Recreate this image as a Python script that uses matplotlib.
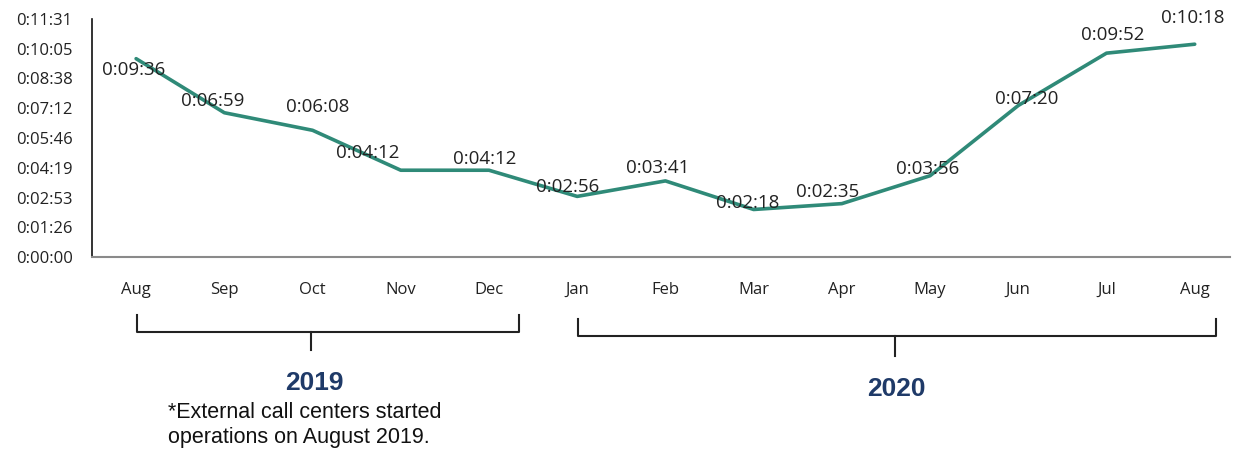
import matplotlib
matplotlib.use("Agg")
import matplotlib.pyplot as plt
from matplotlib.lines import Line2D
from matplotlib.ticker import FixedLocator

months = ["Aug", "Sep", "Oct", "Nov", "Dec", "Jan", "Feb", "Mar", "Apr", "May", "Jun", "Jul", "Aug"]
durations = ["0:09:36", "0:06:59", "0:06:08", "0:04:12", "0:04:12", "0:02:56", "0:03:41",
             "0:02:18", "0:02:35", "0:03:56", "0:07:20", "0:09:52", "0:10:18"]
ytick_labels = ["0:00:00", "0:01:26", "0:02:53", "0:04:19", "0:05:46", "0:07:12",
                "0:08:38", "0:10:05", "0:11:31"]
year_labels = ["2019", "2020"]
footnote = "*External call centers started\noperations on August 2019."


def to_sec(s):
    h, m, sec = s.split(":")
    return int(h) * 3600 + int(m) * 60 + int(sec)


values = [to_sec(d) for d in durations]
tick_step = 86.4  # 0.001 day in seconds
ytick_pos = [i * tick_step for i in range(len(ytick_labels))]

W, H = 1243, 453
fig = plt.figure(figsize=(W / 100, H / 100), dpi=100)
ax = fig.add_axes([92 / W, 1 - 257 / H, (1230 - 92) / W, (257 - 19) / H])

x = list(range(len(months)))
ax.plot(x, values, color="#2f8a78", lw=2.6, solid_capstyle="round")

ax.set_xlim(-0.5, 12.4)
ax.set_ylim(0, ytick_pos[-1])
ax.yaxis.set_major_locator(FixedLocator(ytick_pos))
ax.set_yticklabels(ytick_labels)
ax.set_xticks(x)
ax.set_xticklabels(months)
ax.tick_params(axis="both", length=0, labelsize=12, colors="#222222")
ax.tick_params(axis="x", pad=18)
ax.tick_params(axis="y", pad=14)
for lab in ax.get_xticklabels() + ax.get_yticklabels():
    lab.set_fontfamily("Open Sans")

for s in ["top", "right"]:
    ax.spines[s].set_visible(False)
ax.spines["left"].set_color("#111111")
ax.spines["left"].set_linewidth(1.2)
ax.spines["bottom"].set_color("#8a8a8a")
ax.spines["bottom"].set_linewidth(1.5)

# label offsets in pixels (dx, dy)
offsets = [(-2, -11), (-12, 12), (5, 23), (-33, 17), (-4, 11), (-10, 9), (-8, 13),
           (-6, 6), (-14, 12), (-2, 7), (8, 6), (6, 18), (-2, 26)]
for xi, v, lab, (dx, dy) in zip(x, values, durations, offsets):
    ax.annotate(lab, (xi, v), xytext=(dx, dy), textcoords="offset pixels",
                ha="center", va="center", fontsize=13.5, family="Open Sans",
                color="#222222", annotation_clip=False)


def fx(px):
    return px / W


def fy(py):
    return 1 - py / H


def bracket(x0, x1, ybar, ytop, xm, ybot):
    kw = dict(color="#222222", lw=1.5, transform=fig.transFigure)
    fig.add_artist(Line2D([fx(x0), fx(x0), fx(x1), fx(x1)],
                          [fy(ytop), fy(ybar), fy(ybar), fy(ytop)], **kw))
    fig.add_artist(Line2D([fx(xm), fx(xm)], [fy(ybar), fy(ybot)], **kw))


bracket(137, 519, 332, 315, 311, 350)
bracket(578, 1216, 336, 319, 895, 356)

fig.text(fx(314), fy(383), year_labels[0], ha="center", va="center",
         fontsize=19, fontweight="bold", color="#1f3a68", family="Liberation Sans")
fig.text(fx(896), fy(389), year_labels[1], ha="center", va="center",
         fontsize=19, fontweight="bold", color="#1f3a68", family="Liberation Sans")
fig.text(fx(168), fy(425), footnote, ha="left", va="center",
         fontsize=15.5, color="#111111", family="Liberation Sans", linespacing=1.22)

fig.savefig("out.png", dpi=100)
